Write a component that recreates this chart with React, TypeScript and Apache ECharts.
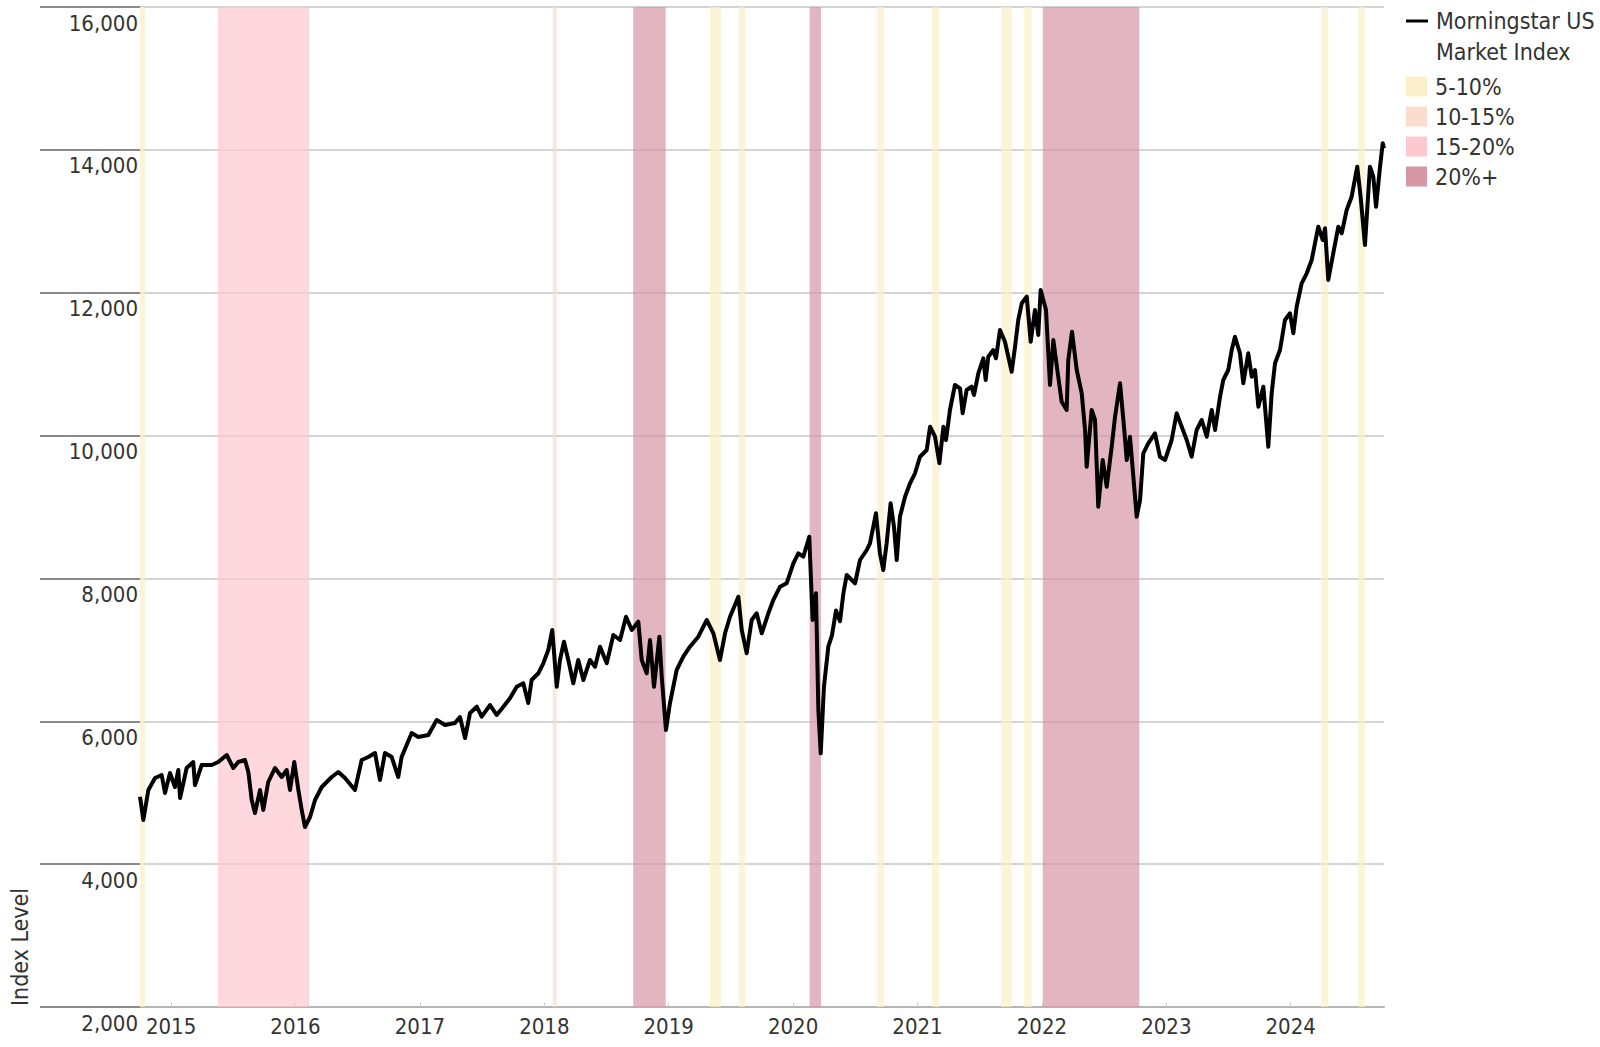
import React, { useEffect, useRef } from "react";
import * as echarts from "echarts";

const FONT = "'Liberation Sans Narrow', 'DejaVu Sans Condensed', 'Roboto Condensed', 'Arial Narrow', sans-serif";

// x values are decimal years (e.g. 2020.222 ≈ late March 2020)
const years: number[] = [
  2014.750, 2014.777, 2014.817, 2014.871, 2014.924, 2014.951, 2014.991, 2015.031, 2015.058, 2015.072,
  2015.125, 2015.178, 2015.192, 2015.246, 2015.326, 2015.379, 2015.447, 2015.500, 2015.540, 2015.594,
  2015.621, 2015.648, 2015.674, 2015.715, 2015.741, 2015.781, 2015.835, 2015.889, 2015.929, 2015.956,
  2015.990, 2016.023, 2016.050, 2016.076, 2016.117, 2016.157, 2016.211, 2016.291, 2016.344, 2016.398,
  2016.478, 2016.532, 2016.585, 2016.639, 2016.679, 2016.719, 2016.773, 2016.826, 2016.853, 2016.934,
  2016.987, 2017.068, 2017.135, 2017.202, 2017.282, 2017.322,
  2017.363, 2017.403, 2017.457, 2017.497, 2017.564, 2017.617, 2017.671, 2017.724, 2017.778, 2017.831,
  2017.871, 2017.898, 2017.952, 2017.992, 2018.032, 2018.064, 2018.100, 2018.126, 2018.158, 2018.193,
  2018.233, 2018.273, 2018.314, 2018.367, 2018.408, 2018.448, 2018.502, 2018.555, 2018.609, 2018.657,
  2018.703, 2018.756, 2018.783, 2018.823, 2018.850, 2018.882, 2018.925, 2018.944, 2018.978, 2019.010,
  2019.064, 2019.117, 2019.171, 2019.238, 2019.306, 2019.359, 2019.412, 2019.453, 2019.493, 2019.560,
  2019.587, 2019.627, 2019.667, 2019.707, 2019.748, 2019.801, 2019.841, 2019.895, 2019.948, 2020.002,
  2020.042, 2020.082, 2020.130, 2020.157, 2020.184, 2020.203, 2020.222, 2020.248, 2020.283, 2020.312,
  2020.345, 2020.377, 2020.405, 2020.431, 2020.498, 2020.538, 2020.592, 2020.618, 2020.666, 2020.698,
  2020.725, 2020.752, 2020.784, 2020.811, 2020.833, 2020.859, 2020.900, 2020.940, 2020.980, 2021.020,
  2021.074, 2021.101, 2021.141, 2021.176, 2021.208, 2021.229, 2021.261, 2021.301, 2021.342, 2021.363,
  2021.395, 2021.435, 2021.454, 2021.489, 2021.529, 2021.548, 2021.569, 2021.609, 2021.631, 2021.663,
  2021.703, 2021.730, 2021.757, 2021.784, 2021.810, 2021.838, 2021.878, 2021.910, 2021.944, 2021.971,
  2021.990, 2022.033, 2022.065, 2022.092, 2022.124, 2022.159, 2022.199, 2022.212, 2022.242, 2022.280,
  2022.320, 2022.347, 2022.360, 2022.400, 2022.427, 2022.453, 2022.489, 2022.521, 2022.561, 2022.588,
  2022.628, 2022.660, 2022.682, 2022.708, 2022.735, 2022.762, 2022.789, 2022.815, 2022.855, 2022.909,
  2022.949, 2022.990, 2023.043, 2023.083, 2023.124, 2023.164, 2023.204, 2023.244, 2023.285, 2023.325,
  2023.365, 2023.392, 2023.432, 2023.458, 2023.498, 2023.526, 2023.552, 2023.592, 2023.619, 2023.659,
  2023.687, 2023.713, 2023.740, 2023.780, 2023.820, 2023.847, 2023.874, 2023.914, 2023.954, 2023.994,
  2024.021, 2024.048, 2024.088, 2024.129, 2024.169, 2024.195, 2024.222, 2024.257, 2024.276, 2024.302,
  2024.342, 2024.383, 2024.410, 2024.450, 2024.490, 2024.535, 2024.562, 2024.597, 2024.637, 2024.664,
  2024.686, 2024.718, 2024.740, 2024.750,
];

const indexLevel: number[] = [
  4944, 4618, 5038, 5206, 5248, 4996, 5276, 5080, 5318, 4926,
  5346, 5430, 5108, 5388, 5388, 5430, 5528, 5346, 5430, 5458,
  5290, 4898, 4716, 5038, 4758, 5150, 5346, 5220, 5318, 5038,
  5430, 5038, 4758, 4520, 4660, 4898, 5080, 5220, 5290, 5206,
  5038, 5458, 5500, 5556, 5178, 5556, 5500, 5220, 5500, 5836,
  5780, 5808, 6018, 5948, 5976, 6060,
  5766, 6116, 6204, 6064, 6228, 6088, 6204, 6322, 6484, 6532,
  6256, 6578, 6672, 6812, 6998, 7278, 6484, 6858, 7114, 6858,
  6532, 6858, 6578, 6858, 6764, 7044, 6812, 7208, 7138, 7464,
  7278, 7394, 6858, 6672, 7138, 6484, 7184, 6624, 5878, 6252,
  6718, 6904, 7044, 7184, 7418, 7232, 6858, 7232, 7464, 7744,
  7278, 6952, 7418, 7512, 7232, 7512, 7698, 7884, 7932, 8212,
  8352, 8304, 8584, 7418, 7792, 6158, 5552, 6484, 7044, 7200,
  7550, 7400, 7800, 8048, 7932, 8258, 8398, 8492, 8912, 8352,
  8118, 8492, 9052, 8724, 8258, 8864, 9144, 9332, 9472, 9704,
  9798, 10124, 9984, 9612, 10124, 9938, 10358, 10708, 10660, 10312,
  10638, 10684, 10568, 10872, 11082, 10778, 11104, 11198, 11082, 11478,
  11314, 11104, 10894, 11244, 11618, 11852, 11944, 11314, 11758, 11408,
  12038, 11758, 10708, 11338, 10918, 10474, 10358, 11058, 11454, 10918,
  10592, 10078, 9564, 10358, 10218, 9004, 9658, 9284, 9844, 10264,
  10732, 10124, 9658, 9984, 9424, 8864, 9098, 9752, 9892, 10032,
  9704, 9658, 9938, 10312, 10124, 9938, 9704, 10078, 10218, 9984,
  10358, 10078, 10544, 10778, 10918, 11198, 11384, 11152, 10732, 11152,
  10824, 10918, 10404, 10684, 9844, 10592, 11012, 11198, 11618, 11712,
  11432, 11804, 12132, 12272, 12458, 12692, 12924, 12738, 12902, 12178,
  12552, 12924, 12832, 13158, 13344, 13764, 13344, 12668, 13764, 13624,
  13204, 13764, 14092, 14022,
];

// Drawdown periods [start, end] in decimal years
const dd5to10: [number, number][] = [
  [2014.75, 2014.79], [2019.332, 2019.42], [2019.565, 2019.613], [2020.673, 2020.731],
  [2021.119, 2021.173], [2021.671, 2021.757], [2021.856, 2021.918], [2024.243, 2024.302],
  [2024.543, 2024.597],
];
const dd10to15: [number, number][] = [[2018.068, 2018.1]];
const dd15to20: [number, number][] = [[2015.377, 2016.109]];
const dd20plus: [number, number][] = [[2018.715, 2018.976], [2020.133, 2020.224], [2022.007, 2022.783]];

const bandNames = ["5-10%", "10-15%", "15-20%", "20%+"];
const bandColors = ["#FAEFC9", "#FADDCF", "#FFC7CE", "#D596A6"];
const bandSets = [dd5to10, dd10to15, dd15to20, dd20plus];

const yTicks = { min: 2000, max: 16000, step: 2000 };
const xRange = { min: 2014.75, max: 2024.75 };

export default function App() {
  const ref = useRef<HTMLDivElement>(null);
  useEffect(() => {
    if (!ref.current) return;
    const chart = echarts.init(ref.current, null, { renderer: "svg" });
    const lineData = years.map((y, i) => [y, indexLevel[i]]);
    const bandSeries = bandNames.map((name, k) => ({
      name,
      type: "line",
      data: [],
      z: 1,
      itemStyle: { color: bandColors[k] },
      lineStyle: { color: bandColors[k] },
      markArea: {
        silent: true,
        itemStyle: { color: bandColors[k], opacity: 0.7 },
        data: bandSets[k].map(([a, b]) => [{ xAxis: a }, { xAxis: b }]),
      },
    }));
    chart.setOption({
      animation: false,
      backgroundColor: "#fff",
      textStyle: { fontFamily: FONT },
      grid: { left: 140, right: 216, top: 7, bottom: 40, containLabel: false },
      xAxis: {
        type: "value",
        min: xRange.min,
        max: xRange.max,
        splitNumber: 10,
        axisLine: { lineStyle: { color: "#b5b5b5", width: 2 } },
        axisTick: { inside: true, length: 4, lineStyle: { color: "#c8c8c8", width: 1 } },
        splitLine: { show: false },
        axisLabel: {
          showMinLabel: false,
          showMaxLabel: false,
          formatter: (v: number) => (Math.abs(v - Math.round(v)) < 1e-6 ? String(Math.round(v)) : ""),
          fontSize: 22,
          color: "#333",
          fontFamily: FONT,
          margin: 8,
        },
      },
      yAxis: {
        type: "value",
        min: yTicks.min,
        max: yTicks.max,
        interval: yTicks.step,
        axisLine: { show: false },
        axisTick: { show: true, length: 100, lineStyle: { color: "#8a8a8a", width: 2 } },
        splitLine: { lineStyle: { color: "#d4d4d4", width: 2 } },
        axisLabel: {
          formatter: (v: number) => v.toLocaleString("en-US"),
          fontSize: 22,
          color: "#333",
          fontFamily: FONT,
          verticalAlign: "top",
          margin: 2,
          padding: [5, 0, 0, 0],
        },
      },
      legend: {
        data: bandNames,
        orient: "vertical",
        left: 1406,
        top: 75,
        padding: 0,
        itemWidth: 21,
        itemHeight: 20,
        itemGap: 7,
        icon: "rect",
        selectedMode: false,
        textStyle: { fontSize: 23, lineHeight: 20, color: "#333", fontFamily: FONT, padding: [0, 0, 0, 3] },
      },
      graphic: [
        {
          type: "line",
          shape: { x1: 1406, y1: 21, x2: 1428, y2: 21 },
          style: { stroke: "#000", lineWidth: 3 },
        },
        {
          type: "text",
          x: 1436,
          y: 21,
          style: { text: "Morningstar US", fontSize: 23, fill: "#333", fontFamily: FONT, verticalAlign: "middle", align: "left" },
        },
        {
          type: "text",
          x: 1436,
          y: 52,
          style: { text: "Market Index", fontSize: 23, fill: "#333", fontFamily: FONT, verticalAlign: "middle", align: "left" },
        },
        {
          type: "text",
          x: 20,
          y: 1006,
          rotation: Math.PI / 2,
          style: { text: "Index Level", fontSize: 23, fill: "#333", fontFamily: FONT, verticalAlign: "middle", align: "left" },
        },
      ],
      series: [
        ...bandSeries,
        {
          name: "Morningstar US Market Index",
          type: "line",
          data: lineData,
          showSymbol: false,
          symbol: "none",
          z: 10,
          lineStyle: { color: "#000", width: 4, join: "round" },
          itemStyle: { color: "#000" },
        },
      ],
    });
    return () => chart.dispose();
  }, []);
  return <div ref={ref} style={{ position: "fixed", left: 0, top: 0, width: 1600, height: 1047 }} />;
}
